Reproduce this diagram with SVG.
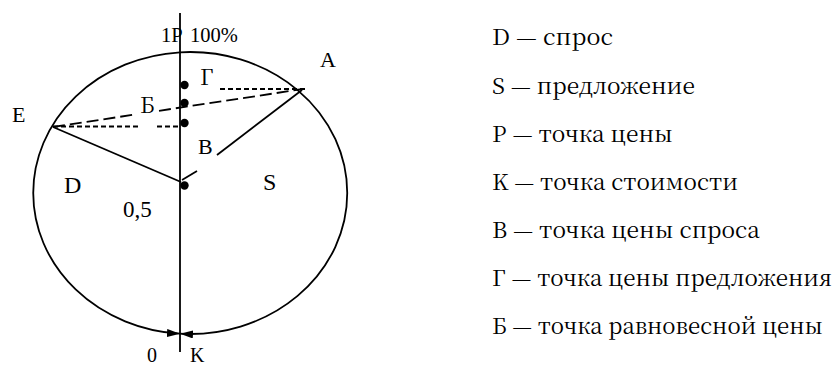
<svg xmlns="http://www.w3.org/2000/svg" width="834" height="367" viewBox="0 0 834 367">
<defs>
<style>
.ln{stroke:#000;stroke-width:1.8;fill:none}
.ld{stroke:#000;stroke-width:1.8;fill:none;stroke-dasharray:12 5}
.sd{stroke:#000;stroke-width:1.8;fill:none;stroke-dasharray:5 3}
.t{font-family:"Liberation Serif","Times New Roman",serif;fill:#000}
.cy{font-family:"Noto Serif CJK SC","Liberation Serif",serif;fill:#000}
.lab{font-size:22px}
.big{font-size:24px}
.leg{font-size:22px}
.dot{fill:#000}
</style>
<marker id="arr" viewBox="0 0 13 8" refX="13" refY="4" markerWidth="13" markerHeight="8" markerUnits="userSpaceOnUse" orient="auto">
<path d="M0,0 L13,4 L0,8 Z" fill="#000"/>
</marker>
</defs>
<rect width="834" height="367" fill="#fff"/>
<g id="connectors">
<line id="axis" class="ln" x1="180" y1="13" x2="180" y2="352"/>
<path id="arc-left" class="ln" d="M180,52.3 A157,141 0 0 0 180,333.7" marker-end="url(#arr)"/>
<path id="arc-right" class="ln" d="M180,52.3 A157,141 0 1 1 180,333.7" marker-end="url(#arr)"/>
<line class="ln" x1="53" y1="127" x2="181" y2="182"/>
<line class="ln" x1="217" y1="155" x2="302" y2="90"/>
<line class="ln" x1="182" y1="180" x2="197" y2="171"/>
<line class="ld" x1="53" y1="127" x2="137" y2="114.2"/>
<line class="ld" x1="159" y1="110.8" x2="303" y2="89"/>
<line class="sd" x1="53" y1="126.5" x2="138" y2="126.5"/>
<line class="sd" x1="157" y1="126.5" x2="178" y2="126.5"/>
<line class="sd" x1="220" y1="89" x2="305" y2="89"/>
</g>
<g id="point-G"><circle class="dot" cx="184.5" cy="85" r="4.2"/><text class="cy lab" x="200" y="85">Г</text></g>
<g id="point-Bsoft"><circle class="dot" cx="184.5" cy="103" r="4.2"/><text class="cy lab" x="140" y="113">Б</text></g>
<g id="point-V"><circle class="dot" cx="184.5" cy="123" r="4.2"/><text class="t lab" x="198" y="154">B</text></g>
<g id="point-center"><circle class="dot" cx="184.5" cy="185.5" r="4.2"/></g>
<g id="label-top"><text class="t" font-size="20.5" x="161" y="42">1P<tspan x="190">100%</tspan></text></g>
<g id="point-A"><text class="t lab" x="320" y="67">A</text></g>
<g id="point-E"><text class="t lab" x="12" y="122">E</text></g>
<g id="region-D"><text class="t big" x="64" y="193">D</text></g>
<g id="region-S"><text class="t big" x="263" y="190">S</text></g>
<g id="label-half"><text class="t" font-size="23" x="123" y="217">0,5</text></g>
<g id="label-zero"><text class="t" font-size="20" x="147" y="362">0</text></g>
<g id="label-K"><text class="t" font-size="20" x="190" y="362">K</text></g>
<g id="legend">
<text class="cy leg" x="492" y="45" textLength="121" lengthAdjust="spacingAndGlyphs">D — спрос</text>
<text class="cy leg" x="492" y="94" textLength="203" lengthAdjust="spacingAndGlyphs">S — предложение</text>
<text class="cy leg" x="492" y="142" textLength="181" lengthAdjust="spacingAndGlyphs">P — точка цены</text>
<text class="cy leg" x="492" y="190" textLength="246" lengthAdjust="spacingAndGlyphs">K — точка стоимости</text>
<text class="cy leg" x="492" y="238" textLength="268" lengthAdjust="spacingAndGlyphs">B — точка цены спроса</text>
<text class="cy leg" x="492" y="286" textLength="340" lengthAdjust="spacingAndGlyphs">Г — точка цены предложения</text>
<text class="cy leg" x="492" y="334" textLength="331" lengthAdjust="spacingAndGlyphs">Б — точка равновесной цены</text>
</g>
</svg>
